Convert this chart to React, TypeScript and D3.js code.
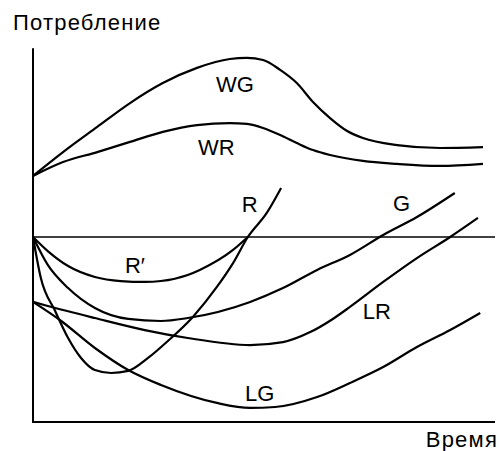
import React, { useEffect, useRef } from "react";
import * as d3 from "d3";

// time runs 0..100, consumption -100..100 (0 = the horizontal reference line)
const timeWG = [0, 6.5, 13.9, 21.0, 28.1, 35.5, 42.6, 46.3, 49.8, 53.5, 57.1, 60.6, 64.3, 68.0, 71.4, 78.8, 88.1, 97.4];
const valWG = [33.0, 45.9, 59.5, 72.4, 83.2, 91.4, 96.2, 96.8, 95.7, 90.3, 83.2, 73.0, 64.3, 57.3, 53.5, 49.7, 48.1, 48.6];

const timeWR = [0, 6.5, 13.9, 21.0, 28.1, 35.5, 42.6, 46.3, 49.8, 53.5, 57.1, 60.6, 64.3, 71.4, 78.8, 88.1, 97.4];
const valWR = [33.0, 40.5, 45.9, 51.4, 56.8, 60.5, 61.6, 61.1, 58.9, 55.1, 50.8, 47.0, 44.3, 41.1, 39.5, 38.4, 39.5];

const timeRp = [0, 3.2, 7.6, 13.4, 19.0, 24.2, 27.7, 33.5, 36.1, 43.3, 46.5];
const valRp = [0, -7.6, -15.7, -21.6, -23.8, -24.3, -23.8, -20.5, -17.8, -7.0, 0];

const timeR = [0, 1.7, 4.8, 7.6, 10.4, 13.4, 16.9, 20.6, 24.9, 29.2, 34.6, 39.8, 43.3, 46.5, 50.6, 53.7];
const valR = [0, -22.2, -40.0, -54.6, -65.4, -71.9, -73.5, -72.4, -65.4, -56.2, -43.2, -27.0, -14.1, 0, 13.0, 26.5];

const timeG = [0, 3.2, 7.6, 13.4, 20.6, 27.7, 33.5, 47.0, 54.1, 61.5, 68.6, 75.8, 83.1, 91.3];
const valG = [0, -15.1, -27.6, -38.4, -44.3, -45.4, -43.8, -35.1, -27.6, -17.8, -9.7, 1.1, 10.8, 23.8];

const timeLR = [0, 3.2, 13.4, 24.2, 33.5, 47.0, 54.1, 60.0, 64.9, 68.6, 75.8, 83.1, 90.3, 96.3];
const valLR = [-35.1, -37.3, -43.8, -50.3, -54.6, -58.4, -56.8, -51.4, -44.3, -37.8, -24.3, -11.4, 0, 10.3];

const timeLG = [0, 6.1, 13.4, 20.6, 27.7, 39.8, 47.0, 52.4, 61.5, 68.6, 75.8, 83.1, 90.3, 96.8];
const valLG = [-35.1, -45.4, -60.0, -71.9, -80.0, -89.7, -92.4, -91.9, -86.5, -78.9, -70.3, -59.5, -50.3, -41.1];

const curveNames = ["WG", "WR", "R′", "R", "G", "LR", "LG"];
// label anchor (time, consumption) for each curve name
const labelTime = [39.6, 35.7, 19.9, 45.2, 77.9, 71.4, 45.9];
const labelVal = [78.4, 44.3, -19.5, 13.5, 14.1, -44.3, -88.6];

const App = () => {
  const ref = useRef<SVGSVGElement>(null);

  useEffect(() => {
    const width = 500;
    const height = 451;
    const svg = d3.select(ref.current);
    svg.selectAll("*").remove();

    const x = d3.scaleLinear().domain([0, 100]).range([33, 495]);
    const y = d3.scaleLinear().domain([-100, 100]).range([422, 52]);

    const font = "'Liberation Sans', Arial, sans-serif";

    svg.append("rect").attr("width", width).attr("height", height).attr("fill", "#fff");

    // axes
    svg
      .append("path")
      .attr("d", `M${x(0)},${y(102)}V${y(-100)}H${x(100)}`)
      .attr("fill", "none")
      .attr("stroke", "#000")
      .attr("stroke-width", 2);

    // reference level
    svg
      .append("line")
      .attr("x1", x(0))
      .attr("x2", x(100))
      .attr("y1", y(0))
      .attr("y2", y(0))
      .attr("stroke", "#000")
      .attr("stroke-width", 1.6);

    const line = d3
      .line<[number, number]>()
      .x((d) => x(d[0]))
      .y((d) => y(d[1]))
      .curve(d3.curveMonotoneX);

    const series: [number[], number[]][] = [
      [timeWG, valWG],
      [timeWR, valWR],
      [timeRp, valRp],
      [timeR, valR],
      [timeG, valG],
      [timeLR, valLR],
      [timeLG, valLG],
    ];

    series.forEach(([t, v]) => {
      const pts = t.map((tt, i) => [tt, v[i]] as [number, number]);
      svg
        .append("path")
        .attr("d", line(pts))
        .attr("fill", "none")
        .attr("stroke", "#000")
        .attr("stroke-width", 2.2)
        .attr("stroke-linejoin", "round");
    });

    svg
      .selectAll("text.lbl")
      .data(curveNames)
      .enter()
      .append("text")
      .attr("class", "lbl")
      .attr("x", (d, i) => x(labelTime[i]))
      .attr("y", (d, i) => y(labelVal[i]))
      .attr("font-family", font)
      .attr("font-size", 22)
      .attr("fill", "#000")
      .text((d) => d);

    svg
      .append("text")
      .attr("x", 13)
      .attr("y", 30)
      .attr("font-family", font)
      .attr("font-size", 22)
      .attr("letter-spacing", 1.2)
      .attr("fill", "#000")
      .text("Потребление");

    svg
      .append("text")
      .attr("x", 498)
      .attr("y", 447)
      .attr("text-anchor", "end")
      .attr("font-family", font)
      .attr("font-size", 22)
      .attr("letter-spacing", 1.2)
      .attr("fill", "#000")
      .text("Время");
  }, []);

  return (
    <div style={{ position: "absolute", left: 0, top: 0 }}>
      <svg ref={ref} width={500} height={451} style={{ display: "block" }} />
    </div>
  );
};

export default App;
